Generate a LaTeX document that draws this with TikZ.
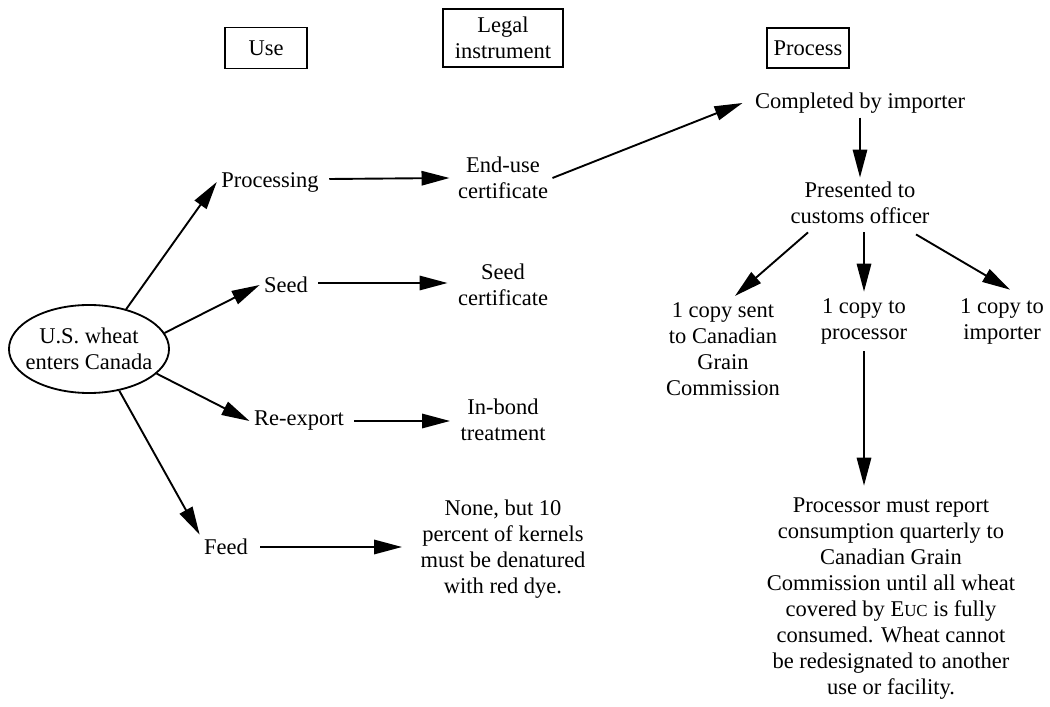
\documentclass[tikz,border=0pt]{standalone}
\usepackage{fontspec}
\setmainfont{Liberation Serif}
\usetikzlibrary{arrows.meta,shapes.geometric,calc}
\begin{document}
\begin{tikzpicture}[x=0.025cm,y=-0.025cm,
  every node/.style={font=\fontsize{16}{18.5}\selectfont, align=center, inner sep=3pt},
  hdr/.style={draw, line width=1.2pt, inner sep=0pt},
  arr/.style={-{Triangle[length=0.7cm,width=0.36cm]}, line width=1.35pt},
]
\useasboundingbox (0,0) rectangle (1050,707);

% headers
\node[hdr, minimum width=2.05cm, minimum height=1.03cm] (huse) at (266,48) {Use};
\node[hdr, minimum width=3.0cm, minimum height=1.45cm] (hlegal) at (503,38) {Legal\\instrument};
\node[hdr, minimum width=2.05cm, minimum height=1.0cm] (hproc) at (808,48) {Process};

% start
\node[ellipse, draw, line width=1.3pt, inner xsep=-5pt, inner ysep=0pt, minimum width=4.0cm, minimum height=2.2cm] (wheat) at (89,349) {U.S. wheat\\enters Canada};

% uses
\node (proc) at (270,182) {Processing};
\node (seed) at (286,285) {Seed};
\node (reexp) at (299,421) {Re-export};
\node (feed) at (226,547) {Feed};

% legal instruments
\node (euc) at (503,178) {End-use\\certificate};
\node (seedc) at (503,285) {Seed\\certificate};
\node (inbond) at (503,420) {In-bond\\treatment};
\node (none) at (503,549) {None, but 10\\percent of kernels\\must be denatured\\with red dye.};

% process
\node (comp) at (860,103) {Completed by importer};
\node (pres) at (860,203) {Presented to\\customs officer};
\node (c1) at (723,349) {1 copy sent\\to Canadian\\Grain\\Commission};
\node (c2) at (864,321) {1 copy to\\processor};
\node (c3) at (1002,321) {1 copy to\\importer};
\node (para) at (891,599) {Processor must report\\consumption quarterly to\\Canadian Grain\\Commission until all wheat\\covered by E{\fontsize{12}{14}\selectfont UC} is fully\\consumed. Wheat cannot\\be redesignated to another\\use or facility.};

% connectors from wheat
\draw[arr] (wheat.47) -- (proc.west);
\draw[arr] (wheat.12) -- (seed.west);
\draw[arr] (wheat.-20) -- (reexp.west);
\draw[arr] (wheat.-54) -- (feed.north west);

% use -> instrument
\draw[arr] ($(proc.east)+(6,-3)$) -- ($(euc.west)+(-4,0)$);
\draw[arr] ($(seed.east)+(6,-2)$) -- ($(seed.east -| seedc.west)+(-6,-2)$);
\draw[arr] ($(reexp.east)+(6,0)$) -- ($(reexp.east -| inbond.west)+(-6,0)$);
\draw[arr] ($(feed.east)+(8,0)$) -- ($(feed.east -| none.west)+(-14,0)$);

% process chain
\draw[arr] (euc.east) -- ($(comp.west)+(-8,0)$);
\draw[arr] (comp.south) -- (pres.north);
\draw[arr] ($(pres.south)+(-52,4)$) -- ($(c1.north)+(12,-2)$);
\draw[arr] ($(pres.south -| c2.north)+(0,4)$) -- ($(c2.north)+(0,-2)$);
\draw[arr] ($(pres.south)+(56,6)$) -- ($(c3.north)+(8,-4)$);
\draw[arr] ($(c2.south)+(0,3)$) -- ($(c2.south |- para.north)+(0,-8)$);
\end{tikzpicture}
\end{document}
